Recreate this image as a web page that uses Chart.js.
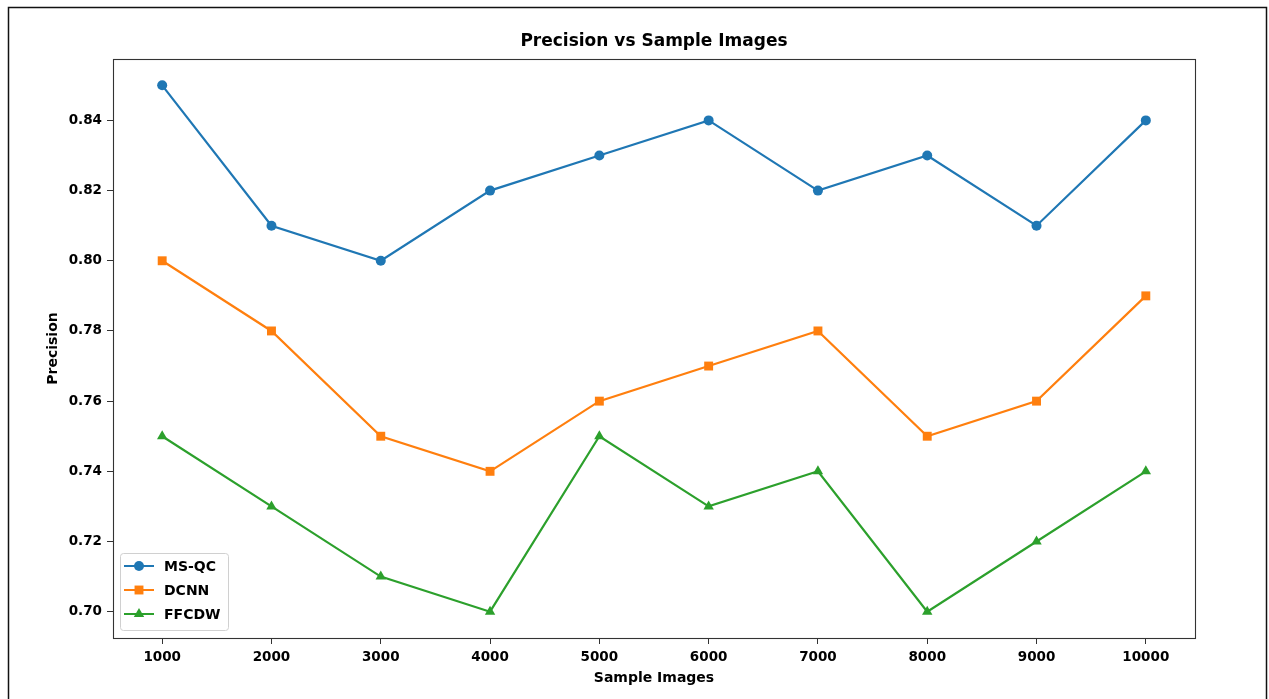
<!DOCTYPE html>
<html>
<head>
<meta charset="utf-8">
<script src="https://cdn.jsdelivr.net/npm/chart.js@4.4.1/dist/chart.umd.min.js"></script>
<style>
  html, body { margin: 0; padding: 0; background: #fff; }
  #wrap { width: 1269px; height: 699px; position: relative; }
</style>
</head>
<body>
<div id="wrap"><canvas id="chart"></canvas></div>
<script>
// data
const sampleImages = [1000, 2000, 3000, 4000, 5000, 6000, 7000, 8000, 9000, 10000];
const msqc  = [0.85, 0.81, 0.80, 0.82, 0.83, 0.84, 0.82, 0.83, 0.81, 0.84];
const dcnn  = [0.80, 0.78, 0.75, 0.74, 0.76, 0.77, 0.78, 0.75, 0.76, 0.79];
const ffcdw = [0.75, 0.73, 0.71, 0.70, 0.75, 0.73, 0.74, 0.70, 0.72, 0.74];
const yTicks = [0.70, 0.72, 0.74, 0.76, 0.78, 0.80, 0.82, 0.84];

const FONT = '"DejaVu Sans", "Liberation Sans", sans-serif';

function toPoints(arr) {
    return arr.map((v, i) => ({ x: sampleImages[i], y: v }));
}

// title, axis titles, plot frame, outer border and legend
const decorPlugin = {
    id: 'decor',
    afterDraw(chart) {
        const ctx = chart.ctx;
        const a = chart.chartArea;
        ctx.save();

        // outer figure border
        ctx.strokeStyle = '#111';
        ctx.lineWidth = 1.5;
        ctx.strokeRect(8.5, 7.5, 1258, 720);

        // plot frame
        ctx.strokeStyle = '#333';
        ctx.lineWidth = 1.1;
        ctx.strokeRect(Math.round(a.left) + 0.5, Math.round(a.top) + 0.5,
            Math.round(a.right - a.left), Math.round(a.bottom - a.top));

        // title
        ctx.fillStyle = '#000';
        ctx.font = 'bold 17px ' + FONT;
        ctx.textAlign = 'center';
        ctx.textBaseline = 'middle';
        ctx.fillText('Precision vs Sample Images', (a.left + a.right) / 2, 42);

        // axis titles
        ctx.font = 'bold 14px ' + FONT;
        ctx.fillText('Sample Images', (a.left + a.right) / 2, 678);
        ctx.save();
        ctx.translate(53, (a.top + a.bottom) / 2);
        ctx.rotate(-Math.PI / 2);
        ctx.fillText('Precision', 0, 0);
        ctx.restore();

        // legend
        const bx = 120, by = 553, bw = 108, bh = 77;
        ctx.fillStyle = 'rgba(255,255,255,0.85)';
        ctx.strokeStyle = '#d0d0d0';
        ctx.lineWidth = 1;
        ctx.beginPath();
        ctx.roundRect(bx + 0.5, by + 0.5, bw, bh, 3);
        ctx.fill();
        ctx.stroke();

        const rows = [566, 590, 614];
        chart.data.datasets.forEach((ds, i) => {
            const y = rows[i];
            ctx.strokeStyle = ds.borderColor;
            ctx.lineWidth = 2;
            ctx.beginPath();
            ctx.moveTo(124, y);
            ctx.lineTo(154, y);
            ctx.stroke();
            ctx.fillStyle = ds.backgroundColor;
            Chart.helpers.drawPoint(ctx, {
                pointStyle: ds.pointStyle,
                radius: ds.pointRadius,
                rotation: 0,
                borderWidth: 0
            }, 139, y);
            ctx.fillStyle = '#000';
            ctx.font = 'bold 14px ' + FONT;
            ctx.textAlign = 'left';
            ctx.textBaseline = 'middle';
            ctx.fillText(ds.label, 164, y + 1);
        });

        ctx.restore();
    }
};

const ctx = document.getElementById('chart').getContext('2d');
new Chart(ctx, {
    type: 'line',
    data: {
        datasets: [
            {
                label: 'MS-QC',
                data: toPoints(msqc),
                borderColor: '#1f77b4',
                backgroundColor: '#1f77b4',
                pointStyle: 'circle',
                pointRadius: 5,
                borderWidth: 2.2,
                pointBorderWidth: 0,
                tension: 0
            },
            {
                label: 'DCNN',
                data: toPoints(dcnn),
                borderColor: '#ff7f0e',
                backgroundColor: '#ff7f0e',
                pointStyle: 'rect',
                pointRadius: 6.3,
                borderWidth: 2.2,
                pointBorderWidth: 0,
                tension: 0
            },
            {
                label: 'FFCDW',
                data: toPoints(ffcdw),
                borderColor: '#2ca02c',
                backgroundColor: '#2ca02c',
                pointStyle: 'triangle',
                pointRadius: 6,
                borderWidth: 2.2,
                pointBorderWidth: 0,
                tension: 0
            }
        ]
    },
    options: {
        responsive: true,
        maintainAspectRatio: false,
        animation: false,
        layout: { padding: { top: 59, right: 74, left: 0, bottom: 0 } },
        plugins: {
            legend: { display: false },
            title: { display: false },
            tooltip: { enabled: false }
        },
        scales: {
            x: {
                type: 'linear',
                min: 550,
                max: 10450,
                afterFit(scale) { scale.height = 61; },
                afterBuildTicks(scale) {
                    scale.ticks = sampleImages.map(v => ({ value: v }));
                },
                border: { display: false },
                grid: {
                    drawOnChartArea: false,
                    drawTicks: true,
                    tickLength: 6,
                    tickColor: '#333',
                    tickWidth: 1
                },
                ticks: {
                    color: '#000',
                    padding: 5,
                    maxRotation: 0,
                    autoSkip: false,
                    font: { family: FONT, size: 13.5, weight: 'bold' },
                    callback: v => String(v)
                }
            },
            y: {
                min: 0.6925,
                max: 0.8575,
                afterFit(scale) { scale.width = 113; },
                afterBuildTicks(scale) {
                    scale.ticks = yTicks.map(v => ({ value: v }));
                },
                border: { display: false },
                grid: {
                    drawOnChartArea: false,
                    drawTicks: true,
                    tickLength: 6,
                    tickColor: '#333',
                    tickWidth: 1
                },
                ticks: {
                    color: '#000',
                    padding: 5,
                    autoSkip: false,
                    font: { family: FONT, size: 13.5, weight: 'bold' },
                    callback: v => v.toFixed(2)
                }
            }
        }
    },
    plugins: [decorPlugin]
});
</script>
</body>
</html>
